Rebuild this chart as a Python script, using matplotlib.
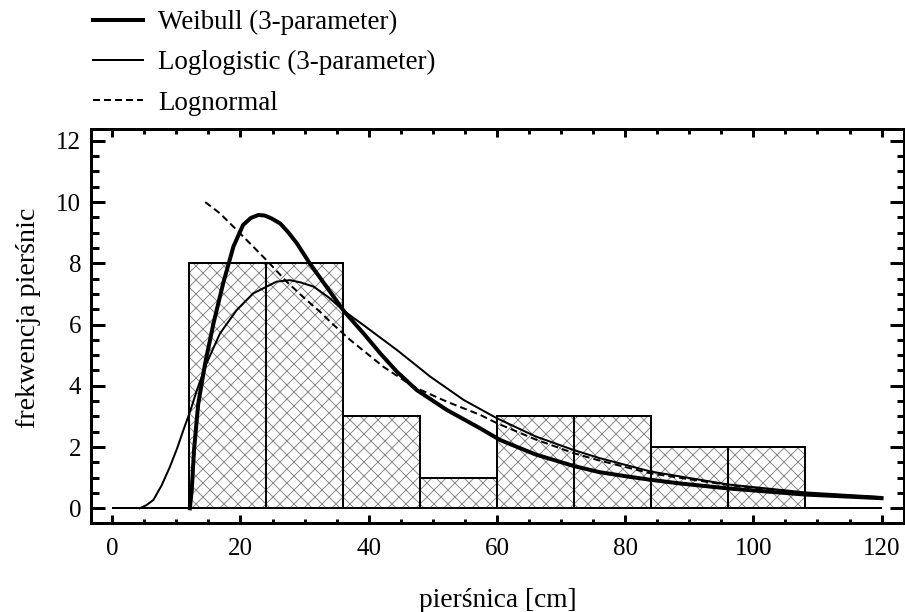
import numpy as np
import matplotlib
matplotlib.use('Agg')
from matplotlib import pyplot as plt
from matplotlib.ticker import MultipleLocator

DPI = 84
pt = lambda px: px * 72 / DPI  # pixels -> points at this dpi

# histogram of diameters: class left edges [cm], class width, counts
bin_left = [12, 24, 36, 48, 60, 72, 84, 96]
bin_width = 12
counts = [8, 8, 3, 1, 3, 3, 2, 2]
x_range = [0, 120]

# fitted densities
weibull_x = [12.1, 12.4, 12.75, 13.4, 14.5, 15.8, 17.3, 18.9, 20.4, 21.6, 22.8, 23.8, 24.8,
             26.2, 27.5, 28.8, 30.8, 33.4, 36.2, 39.2, 41.8, 44.4, 47.5, 52.2, 57.4, 60.5,
             66, 72, 76, 80, 84, 88.6, 96, 108, 120]
weibull_y = [0.0, 0.6, 1.9, 3.4, 4.75, 6.05, 7.35, 8.55, 9.25, 9.48, 9.58, 9.56, 9.47,
             9.3, 9.0, 8.65, 8.0, 7.24, 6.42, 5.71, 5.06, 4.46, 3.86, 3.21, 2.61, 2.23,
             1.76, 1.38, 1.18, 1.05, 0.93, 0.81, 0.65, 0.45, 0.33]

loglog_x = [4.3, 5.3, 6.4, 7.7, 9.0, 10.1, 11.1, 12.2, 13.2, 14.7, 16.8, 19.4, 22.0, 25.6,
            27.7, 29.3, 31.4, 33.8, 36.3, 39.2, 44.4, 49.6, 54.8, 60, 66, 72, 76, 84, 96,
            108, 120]
loglog_y = [0.0, 0.1, 0.27, 0.75, 1.36, 1.95, 2.56, 3.2, 3.86, 4.73, 5.71, 6.47, 7.02, 7.4,
            7.45, 7.38, 7.24, 6.88, 6.42, 5.98, 5.17, 4.30, 3.54, 2.94, 2.35, 1.9, 1.64,
            1.2, 0.78, 0.52, 0.37]

lognorm_x = [14.5, 16.8, 19.4, 22.0, 24.3, 27.2, 30.3, 32.4, 34, 37.1, 42.3, 47, 52.2,
             57.4, 60, 66, 72, 76, 84, 96, 108, 120]
lognorm_y = [10.0, 9.63, 9.09, 8.54, 8.05, 7.4, 6.8, 6.42, 6.09, 5.5, 4.62, 3.97, 3.48,
             3.05, 2.78, 2.25, 1.8, 1.56, 1.14, 0.76, 0.5, 0.35]

plt.rcParams['font.family'] = ['Liberation Serif', 'DejaVu Serif']
plt.rcParams['hatch.linewidth'] = pt(1.0)

fig = plt.figure(figsize=(905 / DPI, 612 / DPI), dpi=DPI)
ax = fig.add_axes([91 / 905, 89 / 612, 813 / 905, 393.5 / 612])

# hatch first (grey), then black outlines on top
ax.bar(bin_left, counts, width=bin_width, align='edge', facecolor='white',
       edgecolor='#8a8a8a', hatch='xx', linewidth=0, zorder=1)
ax.bar(bin_left, counts, width=bin_width, align='edge', facecolor='none',
       edgecolor='black', linewidth=pt(2), zorder=2)
ax.hlines(0, x_range[0], x_range[1], color='black', linewidth=pt(2), zorder=3)

ax.plot(weibull_x, weibull_y, color='black', lw=pt(4), label='Weibull (3-parameter)',
        solid_joinstyle='round', zorder=5)
ax.plot(loglog_x, loglog_y, color='black', lw=pt(2), label='Loglogistic (3-parameter)',
        solid_joinstyle='round', zorder=4)
ax.plot(lognorm_x, lognorm_y, color='black', lw=pt(2), ls=(0, (3.5, 2)), label='Lognormal', zorder=4)

ax.legend(loc='upper left', bbox_to_anchor=(93 / 905, 1 - 10 / 612), bbox_transform=fig.transFigure,
          frameon=False, fontsize=pt(27), handlelength=1.85, handletextpad=0.55,
          labelspacing=0.56, borderpad=0, borderaxespad=0)

ax.set_xlim(-3.32, 123.5)
ax.set_ylim(-0.48, 12.37)
ax.xaxis.set_major_locator(MultipleLocator(20))
ax.xaxis.set_minor_locator(MultipleLocator(5))
ax.yaxis.set_major_locator(MultipleLocator(2))
ax.yaxis.set_minor_locator(MultipleLocator(0.5))

ax.tick_params(which='both', direction='in', top=True, right=True, width=pt(3), labelsize=pt(25))
ax.tick_params(axis='x', which='major', length=pt(8), pad=pt(15))
ax.tick_params(axis='x', which='minor', length=pt(4.5))
ax.tick_params(axis='y', which='major', length=pt(14), pad=pt(10))
ax.tick_params(axis='y', which='minor', length=pt(7.5))
for s in ax.spines.values():
    s.set_linewidth(pt(3))

ax.set_xlabel('pierśnica [cm]', fontsize=pt(27.5))
ax.xaxis.set_label_coords(0.5, (523 - 588) / 393.5)
ax.set_ylabel('frekwencja pierśnic', fontsize=pt(28))
ax.yaxis.set_label_coords((41 - 91) / 813, (523 - 318) / 393.5)

fig.savefig('out.png', dpi=DPI)
